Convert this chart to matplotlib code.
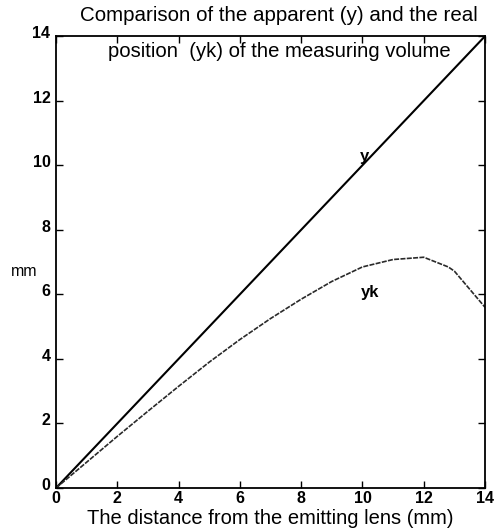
import matplotlib
matplotlib.use("Agg")
import matplotlib.pyplot as plt
import matplotlib.transforms as mtransforms
import numpy as np

plt.rcParams['font.family'] = ['Liberation Sans', 'DejaVu Sans']

x_vals = [0, 1, 2, 3, 4, 5, 6, 7, 8, 9, 10, 11, 12, 12.8, 13, 14]
y_apparent = [0, 1, 2, 3, 4, 5, 6, 7, 8, 9, 10, 11, 12, 12.8, 13, 14]
yk_real = [0, 0.8, 1.6, 2.38, 3.15, 3.9, 4.6, 5.25, 5.85, 6.4, 6.85, 7.08, 7.15, 6.85, 6.72, 5.6]
ticks = [0, 2, 4, 6, 8, 10, 12, 14]

fig = plt.figure(figsize=(4.94, 5.32), dpi=100)
ax = fig.add_axes([0.1134, 0.0827, 0.8684, 0.8493])

ax.plot(x_vals, y_apparent, color='black', lw=1.5, solid_capstyle='butt')
ax.plot(x_vals, yk_real, color='#2a2a2a', lw=1.2, linestyle=(0, (3, 0.8)))

ax.set_xlim(0, 14)
ax.set_ylim(0, 14)
ax.set_xticks(ticks)
ax.set_yticks(ticks)
ax.tick_params(direction='in', length=5, width=1, top=True, right=True,
               labelsize=11.5, pad=2)
ax.tick_params(axis='y', pad=4)
offset = mtransforms.ScaledTranslation(0, 4 / 100, fig.dpi_scale_trans)
for lab in ax.get_yticklabels():
    lab.set_transform(lab.get_transform() + offset)
for lab in ax.get_xticklabels() + ax.get_yticklabels():
    lab.set_fontweight('bold')
for sp in ax.spines.values():
    sp.set_linewidth(1.3)

ax.text(10.06, 10.28, 'y', fontsize=12, fontweight='bold', ha='center', va='center')
ax.text(10.26, 6.06, 'yk', fontsize=12, fontweight='bold', ha='center', va='center')

fig.text(0.565, 0.97, 'Comparison of the apparent (y) and the real', fontsize=14.8,
         ha='center', va='center')
ax.text(0.52, 0.965, 'position  (yk) of the measuring volume', fontsize=14.6,
        ha='center', va='center', transform=ax.transAxes)
ax.set_xlabel('The distance from the emitting lens (mm)', fontsize=14.5, labelpad=2)
fig.text(0.048, 0.489, 'mm', fontsize=11.5, ha='center', va='center')

fig.savefig('out.png', dpi=100)
